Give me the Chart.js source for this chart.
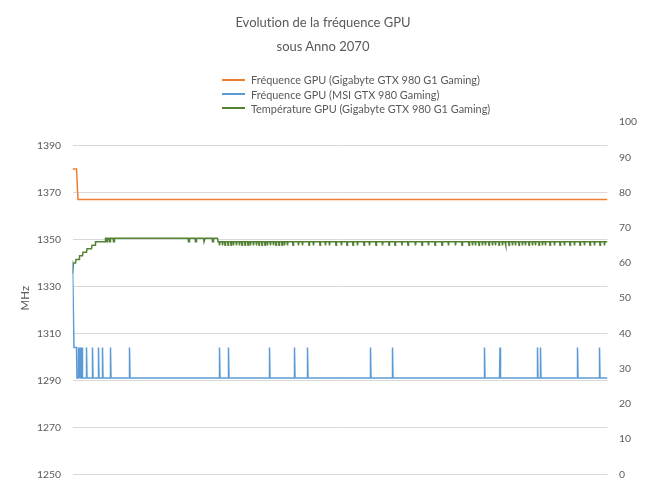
<!DOCTYPE html>
<html lang="fr">
<head>
<meta charset="utf-8">
<title>Evolution de la fréquence GPU sous Anno 2070</title>
<script src="https://cdn.jsdelivr.net/npm/chart.js@4.4.1/dist/chart.umd.min.js"></script>
<style>
  html, body { margin: 0; padding: 0; background: #ffffff; }
  #wrap { position: relative; width: 646px; height: 492px; }
  #chart { position: absolute; left: 0; top: 0; }
  #title { position: absolute; left: 0; top: 10px; width: 646px; text-align: center;
           font-family: Lato, sans-serif; font-size: 13px; line-height: 24px; color: #595959;
           font-variant-ligatures: none; }
  #legend { position: absolute; left: 222px; top: 72.5px; font-family: Lato, sans-serif; font-size: 10.9px; color: #595959;
            font-variant-ligatures: none; }
  #legend .row { display: flex; align-items: center; height: 14.4px; white-space: nowrap; }
  #legend .swatch { width: 23px; height: 2px; margin-right: 6px; }
</style>
</head>
<body>
<div id="wrap">
  <canvas id="chart" width="646" height="492"></canvas>
  <div id="title"></div>
  <div id="legend"></div>
</div>
<script>
// Chart text
const titleLines = ['Evolution de la fréquence GPU', 'sous Anno 2070'];
const seriesNames = [
  'Fréquence GPU (Gigabyte GTX 980 G1 Gaming)',
  'Fréquence GPU (MSI GTX 980 Gaming)',
  'Température GPU (Gigabyte GTX 980 G1 Gaming)'
];
const freqAxisTitle = 'MHz';

// Axis ranges and tick labels
const freqTicks = [1250, 1270, 1290, 1310, 1330, 1350, 1370, 1390];
const freqRange = [1250, 1400];
const tempTicks = [0, 10, 20, 30, 40, 50, 60, 70, 80, 90, 100];
const tempRange = [0, 100];
const sampleRange = [0, 1070];

// Readings as [sample, value]; the line joins consecutive readings
const gigabyteFreq = [[0, 1380], [8, 1380], [11, 1367], [1070, 1367]];

const msiFreq = [
  [0, 1341], [3, 1304], [8, 1304], [9, 1291],
  [11, 1291], [12, 1304], [13, 1291],
  [14, 1291], [15, 1304], [16, 1291],
  [18, 1291], [19, 1304], [20, 1291],
  [27, 1291], [28, 1304], [29, 1291],
  [39, 1291], [40, 1304], [41, 1291],
  [51, 1291], [52, 1304], [53, 1291],
  [59, 1291], [60, 1304], [61, 1291],
  [75, 1291], [76, 1304], [77, 1291],
  [113, 1291], [114, 1304], [115, 1291],
  [293, 1291], [294, 1304], [295, 1291],
  [311, 1291], [312, 1304], [313, 1291],
  [393, 1291], [394, 1304], [395, 1291],
  [443, 1291], [444, 1304], [445, 1291],
  [469, 1291], [470, 1304], [471, 1291],
  [595, 1291], [596, 1304], [597, 1291],
  [639, 1291], [640, 1304], [641, 1291],
  [823, 1291], [824, 1304], [825, 1291],
  [854, 1291], [855, 1304], [856, 1291],
  [929, 1291], [930, 1304], [931, 1291],
  [935, 1291], [936, 1304], [937, 1291],
  [1009, 1291], [1010, 1304], [1011, 1291],
  [1053, 1291], [1054, 1304], [1055, 1291],
  [1070, 1291]
];

const gigabyteTemp = [
  [0, 57], [2, 60], [6, 60], [7, 61], [13, 61], [14, 62], [20, 62], [21, 63],
  [28, 63], [29, 64], [38, 64], [39, 65], [45, 65], [46, 66], [65, 66], [66, 67],
  [67, 67], [68, 66], [69, 66], [70, 67],
  [73, 67], [74, 66], [75, 66], [76, 67],
  [81, 67], [82, 66], [83, 66], [84, 67],
  [231, 67], [232, 66], [233, 66], [234, 67],
  [245, 67], [246, 66], [247, 66], [248, 67],
  [262, 67], [263, 66], [264, 66], [265, 67],
  [279, 67], [280, 66], [281, 66], [282, 67],
  [290, 67], [291, 66],
  [293, 66], [294, 65], [295, 66], [299, 66], [300, 65], [301, 66],
  [304, 66], [305, 65], [306, 66], [310, 66], [311, 65], [312, 66],
  [316, 66], [317, 65], [318, 66], [321, 66], [322, 65], [323, 66],
  [327, 66], [328, 65], [329, 66], [333, 66], [334, 65], [335, 66],
  [338, 66], [339, 65], [340, 66], [344, 66], [345, 65], [346, 66],
  [350, 66], [351, 65], [352, 66], [355, 66], [356, 65], [357, 66],
  [361, 66], [362, 65], [363, 66], [367, 66], [368, 65], [369, 66],
  [372, 66], [373, 65], [374, 66], [378, 66], [379, 65], [380, 66],
  [384, 66], [385, 65], [386, 66], [389, 66], [390, 65], [391, 66],
  [395, 66], [396, 65], [397, 66], [401, 66], [402, 65], [403, 66],
  [406, 66], [407, 65], [408, 66], [412, 66], [413, 65], [414, 66],
  [418, 66], [419, 65], [420, 66], [423, 66], [424, 65], [425, 66],
  [429, 66], [430, 65], [431, 66],
  [440, 66], [441, 65], [442, 66], [451, 66], [452, 65], [453, 66],
  [459, 66], [460, 65], [461, 66], [472, 66], [473, 65], [474, 66],
  [481, 66], [482, 65], [483, 66], [494, 66], [495, 65], [496, 66],
  [505, 66], [506, 65], [507, 66], [513, 66], [514, 65], [515, 66],
  [526, 66], [527, 65], [528, 66], [537, 66], [538, 65], [539, 66],
  [548, 66], [549, 65], [550, 66], [560, 66], [561, 65], [562, 66],
  [569, 66], [570, 65], [571, 66], [582, 66], [583, 65], [584, 66],
  [593, 66], [594, 65], [595, 66],
  [606, 66], [607, 65], [608, 66], [619, 66], [620, 65], [621, 66],
  [632, 66], [633, 65], [634, 66], [644, 66], [645, 65], [646, 66],
  [658, 66], [659, 65], [660, 66], [670, 66], [671, 65], [672, 66],
  [685, 66], [686, 65], [687, 66], [698, 66], [699, 65], [700, 66],
  [711, 66], [712, 65], [713, 66], [724, 66], [725, 65], [726, 66],
  [738, 66], [739, 65], [740, 66], [751, 66], [752, 65], [753, 66],
  [765, 66], [766, 65], [767, 66], [778, 66], [779, 65], [780, 66],
  [792, 66], [793, 65], [794, 66], [799, 66], [800, 65], [801, 66],
  [805, 66], [806, 65], [807, 66], [812, 66], [813, 65], [814, 66],
  [819, 66], [820, 65], [821, 66], [825, 66], [826, 65], [827, 66],
  [832, 66], [833, 65], [834, 66], [839, 66], [840, 65], [841, 66],
  [845, 66], [846, 65], [847, 66], [852, 66], [853, 65], [854, 66],
  [859, 66], [860, 65], [861, 66], [865, 66], [866, 65], [867, 66],
  [872, 66], [873, 65], [874, 66], [879, 66], [880, 65], [881, 66],
  [885, 66], [886, 65], [887, 66], [892, 66], [893, 65], [894, 66],
  [899, 66], [900, 65], [901, 66], [905, 66], [906, 65], [907, 66],
  [912, 66], [913, 65], [914, 66], [919, 66], [920, 65], [921, 66],
  [925, 66], [926, 65], [927, 66], [932, 66], [933, 65], [934, 66],
  [939, 66], [940, 65], [941, 66], [945, 66], [946, 65], [947, 66],
  [954, 66], [955, 65], [956, 66], [963, 66], [964, 65], [965, 66],
  [974, 66], [975, 65], [976, 66], [983, 66], [984, 65], [985, 66],
  [994, 66], [995, 65], [996, 66], [1003, 66], [1004, 65], [1005, 66],
  [1014, 66], [1015, 65], [1016, 66], [1023, 66], [1024, 65], [1025, 66],
  [1034, 66], [1035, 65], [1036, 66], [1043, 66], [1044, 65], [1045, 66],
  [1054, 66], [1055, 65], [1056, 66], [1063, 66], [1064, 65], [1065, 66],
  [1070, 66]
];

const seriesColors = ['#ED7D31', '#5B9BD5', '#548235'];
const textColor = '#595959';
const fontFamily = 'Lato, "Open Sans", sans-serif';

const toPoints = rows => rows.map(([x, y]) => ({ x, y }));
const fixedTicks = values => axis => { axis.ticks = values.map(value => ({ value })); };

const chart = new Chart(document.getElementById('chart'), {
  type: 'line',
  data: {
    datasets: [
      { label: seriesNames[0], data: toPoints(gigabyteFreq), borderColor: seriesColors[0], yAxisID: 'yFreq' },
      { label: seriesNames[1], data: toPoints(msiFreq), borderColor: seriesColors[1], yAxisID: 'yFreq' },
      { label: seriesNames[2], data: toPoints(gigabyteTemp), borderColor: seriesColors[2], yAxisID: 'yTemp' }
    ]
  },
  options: {
    responsive: false,
    animation: false,
    devicePixelRatio: 1,
    elements: {
      point: { radius: 0, hoverRadius: 0 },
      line: { borderWidth: 1.5, tension: 0, fill: false }
    },
    layout: { padding: { left: 0, right: 0, top: 122, bottom: 16 } },
    plugins: {
      legend: { display: false },
      tooltip: { enabled: false },
      title: { display: false }
    },
    scales: {
      x: { type: 'linear', min: sampleRange[0], max: sampleRange[1], display: false },
      yFreq: {
        type: 'linear',
        position: 'left',
        min: freqRange[0],
        max: freqRange[1],
        ticks: { color: textColor, font: { family: fontFamily, size: 10.4 }, padding: 11.5, callback: v => String(v) },
        grid: { color: '#d9d9d9', lineWidth: 1, drawTicks: false },
        border: { display: false },
        title: {
          display: true,
          text: freqAxisTitle,
          color: textColor,
          font: { family: fontFamily, size: 11.5 },
          padding: { top: 18, bottom: 0 }
        },
        afterBuildTicks: fixedTicks(freqTicks),
        afterFit: axis => { axis.width = 72.5; }
      },
      yTemp: {
        type: 'linear',
        position: 'right',
        min: tempRange[0],
        max: tempRange[1],
        ticks: { color: textColor, font: { family: fontFamily, size: 10.4 }, padding: 11.5, callback: v => String(v) },
        grid: { display: false, drawTicks: false },
        border: { display: false },
        afterBuildTicks: fixedTicks(tempTicks),
        afterFit: axis => { axis.width = 38.5; }
      }
    }
  }
});

// Title lines
const titleEl = document.getElementById('title');
titleLines.forEach(line => {
  const div = document.createElement('div');
  div.textContent = line;
  titleEl.appendChild(div);
});

// HTML legend: one entry per row, built from the chart's datasets
const legendEl = document.getElementById('legend');
chart.data.datasets.forEach(ds => {
  const row = document.createElement('div');
  row.className = 'row';
  const sw = document.createElement('span');
  sw.className = 'swatch';
  sw.style.background = ds.borderColor;
  const label = document.createElement('span');
  label.textContent = ds.label;
  row.appendChild(sw);
  row.appendChild(label);
  legendEl.appendChild(row);
});
</script>
</body>
</html>
